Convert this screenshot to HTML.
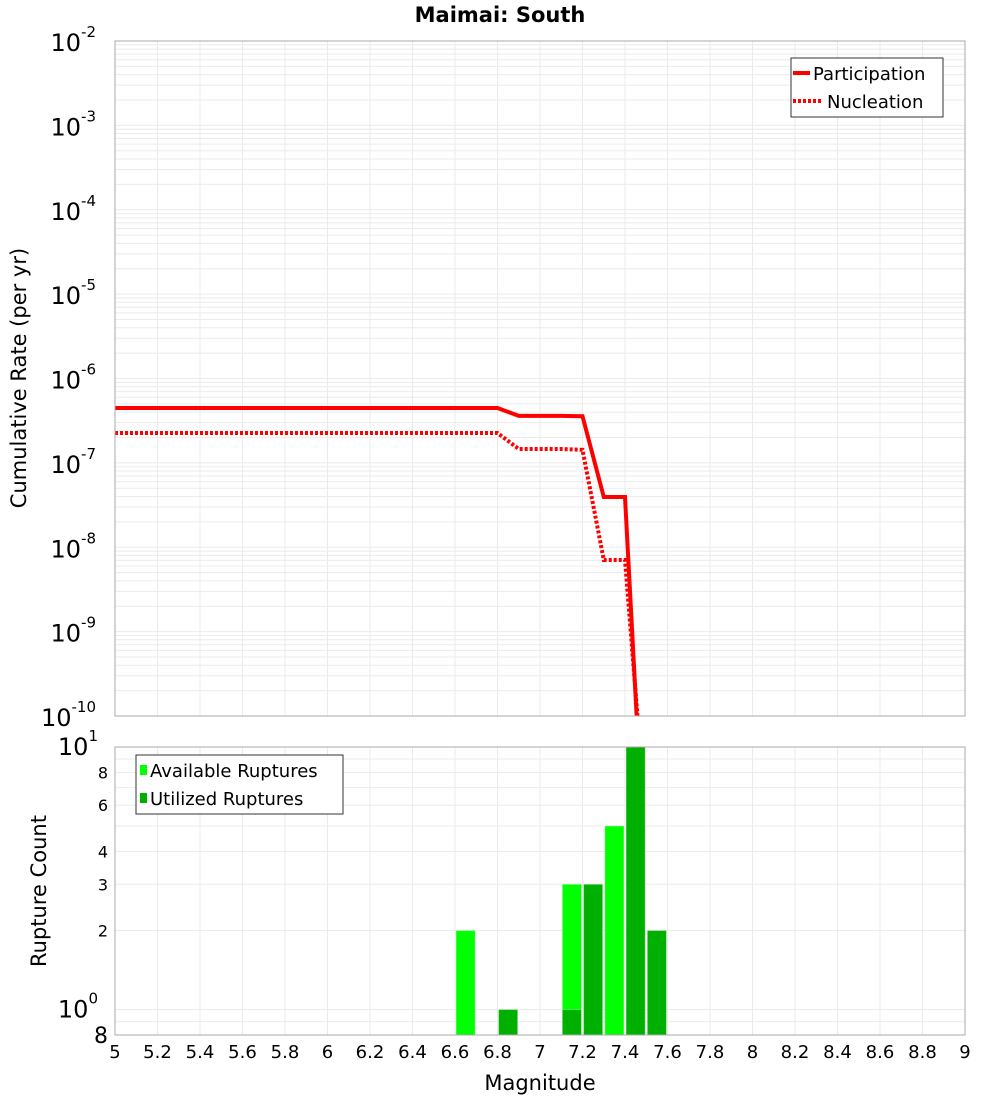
<!DOCTYPE html>
<html><head><meta charset="utf-8"><style>
body{margin:0;background:#fff;}
svg{display:block;font-family:"DejaVu Sans","Liberation Sans",sans-serif;}
</style></head><body>
<svg id="c" width="1000" height="1100" xmlns="http://www.w3.org/2000/svg">
<defs><clipPath id="cp"><rect x="115" y="41" width="850" height="675"/></clipPath></defs>
<text x="500" y="22" text-anchor="middle" font-size="21" font-weight="bold">Maimai: South</text>
<g id="topg"></g>
<g id="botg"></g>
<text transform="translate(26,378) rotate(-90)" text-anchor="middle" font-size="21">Cumulative Rate (per yr)</text>
<text transform="translate(46,891) rotate(-90)" text-anchor="middle" font-size="21">Rupture Count</text>
<text x="540" y="1090" text-anchor="middle" font-size="21">Magnitude</text>
<g>
<rect x="791" y="58" width="152" height="59" fill="#fff" stroke="#333" stroke-width="1"/>
<line x1="793" y1="73" x2="810" y2="73" stroke="#f00" stroke-width="4"/>
<text x="813" y="80" font-size="18">Participation</text>
<line x1="793" y1="101" x2="822" y2="101" stroke="#f00" stroke-width="4" stroke-dasharray="3,2"/>
<text x="827" y="108" font-size="18">Nucleation</text>
</g>
<g id="legend2">
<rect x="136" y="755" width="207" height="59" fill="#fff" stroke="#333" stroke-width="1"/>
<rect x="140" y="765" width="7" height="10" fill="#00ff00"/>
<text x="150" y="777" font-size="18">Available Ruptures</text>
<rect x="140" y="793" width="7" height="10" fill="#00b000"/>
<text x="150" y="805" font-size="18">Utilized Ruptures</text>
</g>
</svg>
<script>
const partMags=[5,6.8,6.9,7.1,7.2,7.3,7.4,7.5];
const partVals=[4.47e-7,4.47e-7,3.6e-7,3.6e-7,3.57e-7,3.94e-8,3.94e-8,7e-13];
const nuclMags=[5,6.8,6.9,7.1,7.2,7.3,7.4,7.5];
const nuclVals=[2.26e-7,2.26e-7,1.46e-7,1.46e-7,1.43e-7,7.06e-9,7.06e-9,5e-12];
const availMags=[6.6,7.1,7.3];
const availCounts=[2,3,5];
const utilMags=[6.8,7.1,7.2,7.4,7.5];
const utilCounts=[1,1,3,10,2];
const xTicks=["5","5.2","5.4","5.6","5.8","6","6.2","6.4","6.6","6.8","7","7.2","7.4","7.6","7.8","8","8.2","8.4","8.6","8.8","9"];
const topExps=[-2,-3,-4,-5,-6,-7,-8,-9,-10];
const botTickVals=[10,8,6,4,3,2,1,0.8];
const botTickLabels=["10^1","8","6","4","3","2","10^0","8"];

(function(){
const NS="http://www.w3.org/2000/svg";
const L=115,R=965,T1=41,B1=716,T2=747,B2=1035;
const X=m=>L+(m-5)/4*(R-L);
const Y1=v=>T1+(-2-Math.log10(v))/8*(B1-T1);
const Y2=v=>T2+(1-Math.log10(v))/(1-Math.log10(0.8))*(B2-T2);
function mk(tag,attrs,parent,txt){const e=document.createElementNS(NS,tag);for(const k in attrs)e.setAttribute(k,attrs[k]);if(txt!==undefined)e.textContent=txt;parent.appendChild(e);return e;}
const tg=document.getElementById('topg'),bg=document.getElementById('botg'),svg=document.getElementById('c');
const leg2=document.getElementById('legend2');

for(let d=-10;d<-2;d++)for(let k=1;k<10;k++){const y=Y1(k*Math.pow(10,d));if(y<T1||y>B1)continue;mk('line',{x1:L,x2:R,y1:y,y2:y,stroke:'#ebebeb','stroke-width':1},tg);}
for(let i=0;i<=20;i++){const x=X(5+i*0.2);mk('line',{x1:x,x2:x,y1:T1,y2:B1,stroke:'#ebebeb'},tg);mk('line',{x1:x,x2:x,y1:T2,y2:B2,stroke:'#ebebeb'},bg);}
[0.8,0.9,1,2,3,4,5,6,7,8,9,10].forEach(v=>{const y=Y2(v);mk('line',{x1:L,x2:R,y1:y,y2:y,stroke:'#ebebeb'},bg);});

function path(ms,vs){return ms.map((m,i)=>(i?'L':'M')+X(m).toFixed(1)+','+Y1(vs[i]).toFixed(1)).join(' ');}
const pl=mk('path',{d:path(partMags,partVals),fill:'none',stroke:'#f00','stroke-width':4,'clip-path':'url(#cp)'},tg);


const nl=mk('path',{d:path(nuclMags,nuclVals),fill:'none',stroke:'#f00','stroke-width':4,'stroke-dasharray':'3,2','clip-path':'url(#cp)'},tg);



function bars(ms,cs,color,name){ms.forEach((m,i)=>{const x0=X(m+0.005),x1=X(m+0.095),y=Y2(cs[i]);const b=mk('rect',{x:x0,y:y,width:x1-x0,height:B2-y,fill:color,stroke:'rgba(255,255,255,0.3)'},bg);});}
bars(availMags,availCounts,'#00ff00','available-bar');
bars(utilMags,utilCounts,'#00b000','utilized-bar');

mk('rect',{x:L,y:T1,width:R-L,height:B1-T1,fill:'none',stroke:'#aaa'},tg);
mk('rect',{x:L,y:T2,width:R-L,height:B2-T2,fill:'none',stroke:'#aaa'},bg);
svg.appendChild(leg2);

xTicks.forEach(t=>{const e=mk('text',{x:X(+t),y:1058,'text-anchor':'middle','font-size':18},svg,t);});
topExps.forEach(p=>{const y=Y1(Math.pow(10,p));const e=mk('text',{x:96,y:y+10,'text-anchor':'end','font-size':24},svg,'10');mk('tspan',{dy:-14,'font-size':15},e,String(p));});
botTickVals.forEach((v,i)=>{const y=Y2(v);const lab=botTickLabels[i];let e;
if(lab.indexOf('^')>0){const parts=lab.split('^');e=mk('text',{x:98,y:y+8,'text-anchor':'end','font-size':24},svg,parts[0]);mk('tspan',{dy:-14,'font-size':15},e,parts[1]);}
else{const big=(i===botTickVals.length-1);e=mk('text',{x:108,y:y+(big?8:6),'text-anchor':'end','font-size':big?22:16},svg,lab);}
});
})();
</script>
</body></html>
